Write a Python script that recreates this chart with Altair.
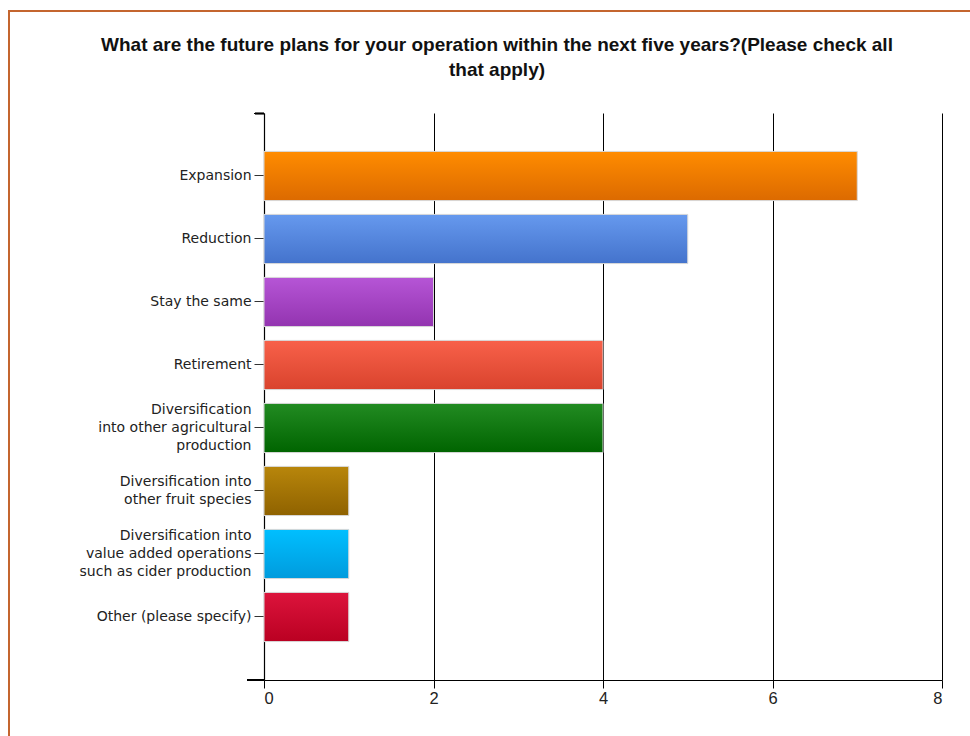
import altair as alt
import pandas as pd

categories = [
    "Expansion",
    "Reduction",
    "Stay the same",
    "Retirement",
    "Diversification\ninto other agricultural\nproduction",
    "Diversification into\nother fruit species",
    "Diversification into\nvalue added operations\nsuch as cider production",
    "Other (please specify)",
]
counts = [7, 5, 2, 4, 4, 1, 1, 1]
top_colors = ["#FF8C00", "#6699EE", "#B655D6", "#F8614A", "#228B22", "#B8860B", "#00BFFF", "#DC143C"]
bottom_colors = ["#DC6A00", "#4473CC", "#9334B0", "#D9432D", "#006400", "#8F6200", "#009BDD", "#BA0022"]
x_ticks = [0, 2, 4, 6, 8]
title_lines = ["What are the future plans for your operation within the next five years?(Please check all", "that apply)"]

df = pd.DataFrame({"plan": categories, "count": counts})

W, H = 678, 567

y_enc = alt.Y(
    "plan:N",
    sort=categories,
    scale=alt.Scale(domain=categories, paddingInner=0.22, paddingOuter=0.61),
    axis=alt.Axis(
        title=None,
        labelExpr="split(datum.label, '\\n')",
        labelFont="DejaVu Sans",
        labelFontSize=14,
        labelColor="#222222",
        labelLineHeight=18,
        labelPadding=3,
        labelOffset=alt.ExprRef(expr="-(length(split(datum.label, '\\n')) - 1) * 9"),
        tickSize=10,
        tickColor="#333333",
        domainColor="#000000",
        domainWidth=1.2,
        grid=False,
        labelLimit=300,
    ),
)
x_enc = alt.X(
    "count:Q",
    scale=alt.Scale(domain=[0, 8], nice=False),
    axis=alt.Axis(
        title=None,
        values=x_ticks,
        grid=True,
        gridColor="#000000",
        gridOpacity=1,
        gridWidth=1,
        domainColor="#000000",
        domainWidth=1.2,
        tickColor="#000000",
        tickSize=8,
        labelFont="Liberation Sans",
        labelFontSize=16.5,
        labelColor="#222222",
        labelPadding=2,
    ),
)

layers = []
for i, cat in enumerate(categories):
    grad = alt.Gradient(
        gradient="linear",
        stops=[alt.GradientStop(color=top_colors[i], offset=0), alt.GradientStop(color=bottom_colors[i], offset=1)],
        x1=0, x2=0, y1=0, y2=1,
    )
    layers.append(
        alt.Chart(df)
        .transform_filter(alt.datum.plan == cat)
        .mark_bar(color=grad, stroke="#D8D8D8", strokeWidth=1)
        .encode(x=x_enc, y=y_enc)
    )

top_tick = alt.Chart(df).mark_rule(color="#000000", strokeWidth=1.2).encode(
    x=alt.value(-10), x2=alt.value(0), y=alt.value(0.5)
)
x_ext = alt.Chart(df).mark_rule(color="#000000", strokeWidth=1.2).encode(
    x=alt.value(-17), x2=alt.value(0), y=alt.value(H)
)
frame = alt.Chart(df).mark_rect(fill=None, stroke="#C4652F", strokeWidth=2, clip=False).encode(
    x=alt.value(-255), x2=alt.value(900), y=alt.value(-102), y2=alt.value(800)
)

chart = (
    alt.layer(frame, *layers, top_tick, x_ext)
    .properties(
        width=W,
        height=H,
        autosize=alt.AutoSizeParams(type="none"),
        padding={"left": 264, "top": 113, "right": 28, "bottom": 56},
        title=alt.TitleParams(
            text=title_lines,
            font="Liberation Sans",
            fontSize=19,
            fontWeight="bold",
            color="#111111",
            anchor="middle",
            frame="group",
            dx=-106,
            offset=-70,
            lineHeight=25,
        ),
        background="#FFFFFF",
    )
    .configure_view(stroke=None)
)

chart.save("out.html", embed_options={"renderer": "svg", "actions": False})
